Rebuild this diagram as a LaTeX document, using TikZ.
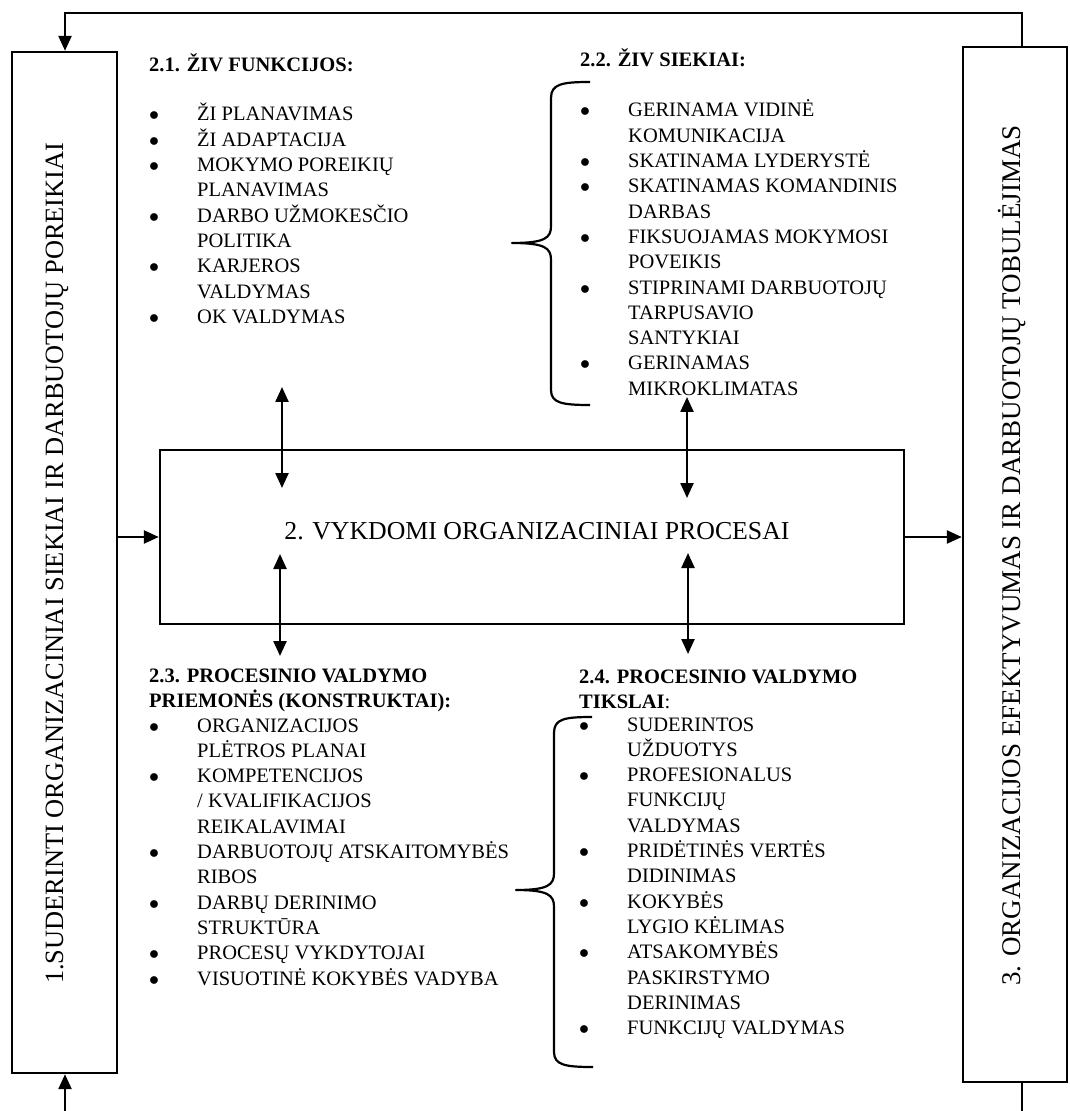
\documentclass[tikz,border=0pt]{standalone}
\usepackage{fontspec}
\setmainfont{Liberation Serif}
\usetikzlibrary{arrows.meta,positioning}

\begin{document}
\begin{tikzpicture}[->,>={Triangle[length=7.5pt,width=6.5pt]},line width=1.2pt,
                    x=0.5pt,y=-0.5pt]
\tikzstyle{blokas}=[rectangle,line width=1.2pt,draw=black,inner sep=0pt]
\tikzstyle{didelis}=[inner sep=0pt,font=\fontsize{13.3}{16}\selectfont]
\tikzstyle{antraste}=[inner sep=0pt,anchor=base west,font=\fontsize{10.25}{12.65}\selectfont\bfseries]
\tikzstyle{sarasas}=[inner sep=0pt,anchor=base west,font=\fontsize{10.25}{12.65}\selectfont]
\tikzstyle{skliaustas}=[-,line width=1.1pt,line join=round]

\useasboundingbox (0,0) rectangle (1069,1111);

\node[blokas,minimum width=52.5pt,minimum height=510.5pt] (poreikiai) at (64.5,562.5) {};
\node[blokas,minimum width=52pt,minimum height=517.5pt] (efektyvumas) at (1015,564.5) {};
\node[blokas,minimum width=372pt,minimum height=87pt,inner sep=0pt,
      font=\fontsize{12.9}{16}\selectfont,text height=8.5pt,text depth=6.5pt] (procesai) at (532,537)
      {\hspace*{5pt}2. VYKDOMI ORGANIZACINIAI PROCESAI};

\node[didelis,font=\fontsize{13.2}{16}\selectfont,rotate=90,anchor=base west] (poreikiai_tekstas) at (63,985) {1.SUDERINTI ORGANIZACINIAI SIEKIAI IR DARBUOTOJŲ POREIKIAI};
\node[didelis,font=\fontsize{13.5}{16}\selectfont,rotate=90,anchor=base west] (efektyvumas_tekstas) at (1020,987) {3. ORGANIZACIJOS EFEKTYVUMAS IR DARBUOTOJŲ TOBULĖJIMAS};

\node[antraste] (h_funkcijos) at (148,72) {2.1. ŽIV FUNKCIJOS:};
\node[sarasas,below=24.5pt of h_funkcijos.base west,anchor=base west] (funkcijos) {%
\begin{tabular}[t]{@{}p{24pt}@{}l@{}}
$\bullet$ & ŽI PLANAVIMAS\\
$\bullet$ & ŽI ADAPTACIJA\\
$\bullet$ & MOKYMO POREIKIŲ\\
 & PLANAVIMAS\\
$\bullet$ & DARBO UŽMOKESČIO\\
 & POLITIKA\\
$\bullet$ & KARJEROS\\
 & VALDYMAS\\
$\bullet$ & OK VALDYMAS
\end{tabular}};

\node[antraste] (h_siekiai) at (579,67) {2.2. ŽIV SIEKIAI:};
\node[sarasas,below=25pt of h_siekiai.base west,anchor=base west] (siekiai) {%
\begin{tabular}[t]{@{}p{24pt}@{}l@{}}
$\bullet$ & GERINAMA VIDINĖ\\
 & KOMUNIKACIJA\\
$\bullet$ & SKATINAMA LYDERYSTĖ\\
$\bullet$ & SKATINAMAS KOMANDINIS\\
 & DARBAS\\
$\bullet$ & FIKSUOJAMAS MOKYMOSI\\
 & POVEIKIS\\
$\bullet$ & STIPRINAMI DARBUOTOJŲ\\
 & TARPUSAVIO\\
 & SANTYKIAI\\
$\bullet$ & GERINAMAS\\
 & MIKROKLIMATAS
\end{tabular}};

\node[antraste] (h_priemones) at (148,682) {%
\begin{tabular}[t]{@{}l@{}}
2.3. PROCESINIO VALDYMO\\
PRIEMONĖS (KONSTRUKTAI):
\end{tabular}};
\node[sarasas,below=25pt of h_priemones.base west,anchor=base west] (priemones) {%
\begin{tabular}[t]{@{}p{24pt}@{}l@{}}
$\bullet$ & ORGANIZACIJOS\\
 & PLĖTROS PLANAI\\
$\bullet$ & KOMPETENCIJOS\\
 & / KVALIFIKACIJOS\\
 & REIKALAVIMAI\\
$\bullet$ & DARBUOTOJŲ ATSKAITOMYBĖS\\
 & RIBOS\\
$\bullet$ & DARBŲ DERINIMO\\
 & STRUKTŪRA\\
$\bullet$ & PROCESŲ VYKDYTOJAI\\
$\bullet$ & VISUOTINĖ KOKYBĖS VADYBA
\end{tabular}};

\node[antraste] (h_tikslai) at (578,683) {%
\begin{tabular}[t]{@{}l@{}}
2.4. PROCESINIO VALDYMO\\
TIKSLAI\mdseries:
\end{tabular}};
\node[sarasas,below=24pt of h_tikslai.base west,anchor=base west] (tikslai) {%
\begin{tabular}[t]{@{}p{24pt}@{}l@{}}
$\bullet$ & SUDERINTOS\\
 & UŽDUOTYS\\
$\bullet$ & PROFESIONALUS\\
 & FUNKCIJŲ\\
 & VALDYMAS\\
$\bullet$ & PRIDĖTINĖS VERTĖS\\
 & DIDINIMAS\\
$\bullet$ & KOKYBĖS\\
 & LYGIO KĖLIMAS\\
$\bullet$ & ATSAKOMYBĖS\\
 & PASKIRSTYMO\\
 & DERINIMAS\\
$\bullet$ & FUNKCIJŲ VALDYMAS
\end{tabular}};

\draw[skliaustas] (590,82) .. controls (562,82) and (551,84) .. (551,98) -- (551,226)
  .. controls (551,238) and (545,243) .. (512,243)
  .. controls (545,243) and (551,248) .. (551,260) -- (551,390)
  .. controls (551,403) and (562,405) .. (590,405);
\draw[skliaustas] (592,717) .. controls (564,717) and (554,719) .. (554,733) -- (554,873)
  .. controls (554,885) and (548,890) .. (516,890)
  .. controls (548,890) and (554,895) .. (554,907) -- (554,1052)
  .. controls (554,1065) and (565,1067) .. (593,1067);

\coordinate (funkcijos_v) at (282,387);
\coordinate (funkcijos_a) at (282,488);
\coordinate (priemones_v) at (280,554);
\coordinate (priemones_a) at (280,656);
\coordinate (siekiai_v) at (687,397);
\coordinate (siekiai_a) at (687,498);
\coordinate (tikslai_v) at (688,553);
\coordinate (tikslai_a) at (688,654);
\draw[<->] (funkcijos_v) -- (funkcijos_a);
\draw[<->] (priemones_v) -- (priemones_a);
\draw[<->] (siekiai_v) -- (siekiai_a);
\draw[<->] (tikslai_v) -- (tikslai_a);

\draw[->] (poreikiai.east |- procesai.west) -- (procesai.west);
\draw[->] (procesai.east) -- (procesai.east -| efektyvumas.west);

\coordinate (virsus_d) at (1022,13);
\coordinate (virsus_k) at (65,13);
\coordinate (apacia_d) at (1022,1111);
\coordinate (apacia_k) at (65,1111);
\draw[->] (efektyvumas.north -| virsus_d) -- (virsus_d) -- (virsus_k) -- (virsus_k |- poreikiai.north);
\draw[-] (efektyvumas.south -| apacia_d) -- (apacia_d);
\draw[->] (apacia_k) -- (apacia_k |- poreikiai.south);
\end{tikzpicture}
\end{document}
